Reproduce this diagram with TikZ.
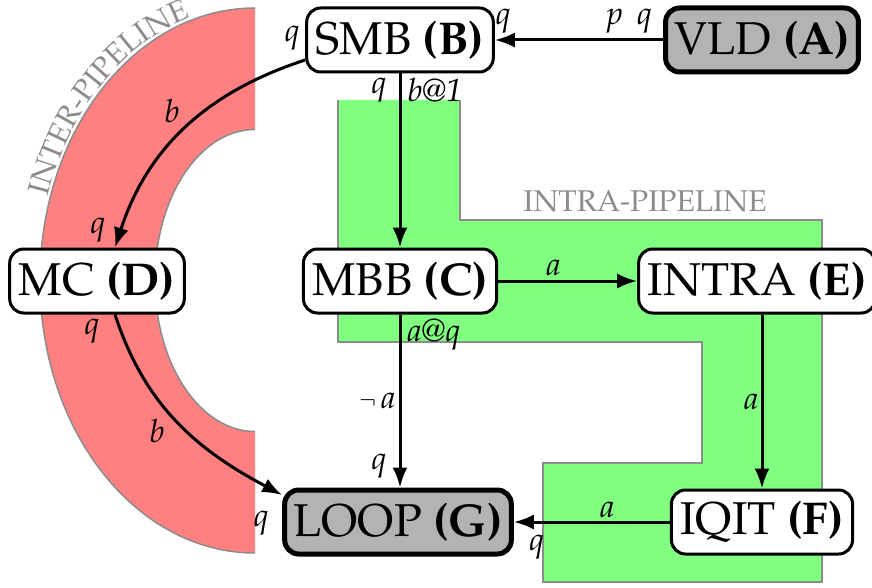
\documentclass[tikz,border=0pt]{standalone}
\usepackage[T1]{fontenc}
\renewcommand{\rmdefault}{ppl}
\usetikzlibrary{arrows.meta,calc,decorations.text}
\definecolor{bandred}{HTML}{FF8080}
\definecolor{bandgreen}{HTML}{80FF80}
\definecolor{edgegray}{HTML}{8C8C8C}
\definecolor{nodegray}{HTML}{B3B3B3}
\newcommand\nodefont{\fontsize{46}{50}\selectfont}
\newcommand\labfont{\fontsize{32}{34}\selectfont\itshape}
\newcommand\zonefont{\fontsize{30}{32}\selectfont\color{edgegray}}
\begin{document}
\begin{tikzpicture}[x=1pt,y=1pt,
  blk/.style={draw=black,line width=3pt,rounded corners=14pt,fill=white,minimum height=64pt,inner xsep=9pt,font=\nodefont},
  gblk/.style={blk,fill=nodegray,line width=5pt},
  arr/.style={line width=3pt,-{Latex[length=20pt,width=15pt]}},
  lab/.style={font=\labfont,inner sep=2pt},
  zone/.style={draw=edgegray,line width=1.5pt}
]
\useasboundingbox (0,0) rectangle (872,-588);
\coordinate (ctr) at (255,-280.5);
% red band
\fill[bandred] ($(ctr)+(90:215 and 272.5)$) arc[start angle=90,end angle=270,x radius=215,y radius=272.5]
  -- ($(ctr)+(270:100 and 151)$) arc[start angle=270,end angle=90,x radius=100,y radius=151] -- cycle;
\draw[zone] ($(ctr)+(90:215 and 272.5)$) arc[start angle=90,end angle=270,x radius=215,y radius=272.5];
\draw[zone] ($(ctr)+(90:100 and 151)$) arc[start angle=90,end angle=270,x radius=100,y radius=151];
\path[decorate,decoration={text along path,text align=center,text={|\zonefont|INTER-PIPELINE}}]
  ($(ctr)+(173:218 and 275.5)$) arc[start angle=173,end angle=94,x radius=218,y radius=275.5];
% green region
\fill[bandgreen] (338,-100) -- (460,-100) -- (460,-220) -- (822,-220) -- (822,-582) -- (543,-582)
  -- (543,-463) -- (702,-463) -- (702,-342) -- (338,-342) -- cycle;
\draw[zone] (460,-100) -- (460,-220) -- (822,-220) -- (822,-582) -- (543,-582)
  -- (543,-463) -- (702,-463) -- (702,-342) -- (338,-342) -- (338,-100);
\node[font=\zonefont] (intra) at (645,-201) {INTRA-PIPELINE};
% nodes
\node[gblk] (A) at (762,-40) {VLD \textbf{(A)}};
\node[blk] (B) at (400,-40) {SMB \textbf{(B)}};
\node[blk] (C) at (400,-281) {MBB \textbf{(C)}};
\node[blk] (D) at (97,-281) {MC \textbf{(D)}};
\node[blk] (E) at (757,-281) {INTRA \textbf{(E)}};
\node[blk] (F) at (762,-522) {IQIT \textbf{(F)}};
\node[gblk] (G) at (398,-522) {LOOP \textbf{(G)}};
% edges
\draw[arr] (A) -- (B)
  node[lab,pos=0.2,above=3pt] {p\;\,q}
  node[lab,pos=0.95,above=3pt] {q};
\draw[arr] (B) -- (C)
  node[lab,at start,anchor=north east,xshift=-10pt,yshift=-1pt] {q}
  node[lab,at start,anchor=north west,xshift=4pt,yshift=-1pt] {b@1};
\draw[arr] ([yshift=-20pt]B.west) to[out=198,in=72]
  node[lab,at start,anchor=south east,xshift=-2pt,yshift=6pt] {q}
  node[lab,pos=0.5,above left=2pt] {b}
  node[lab,at end,anchor=south east,xshift=-6pt,yshift=2pt] {q}
  ([xshift=18pt]D.north);
\draw[arr] (C) -- ([xshift=2pt]G.north)
  node[lab,at start,anchor=north west,xshift=4pt,yshift=-1pt] {a@q}
  node[lab,pos=0.5,left=1pt] {$\neg$\,a}
  node[lab,at end,anchor=south east,xshift=-10pt,yshift=6pt] {q};
\draw[arr] (C) -- (E) node[lab,pos=0.4,above=2pt] {a};
\draw[arr] ([xshift=18pt]D.south) to[out=-72,in=152]
  node[lab,at start,anchor=north east,xshift=-12pt,yshift=-1pt] {q}
  node[lab,pos=0.45,below left=2pt] {b}
  node[lab,at end,anchor=north east,xshift=-10pt,yshift=-12pt] {q}
  ([yshift=27pt]G.west);
\draw[arr] (F |- E.south) -- (F.north) node[lab,pos=0.5,left=0pt] {a};
\draw[arr] (F) -- (G)
  node[lab,pos=0.4,above=1pt] {a}
  node[lab,at end,anchor=north west,xshift=12pt,yshift=-9pt] {q};
\end{tikzpicture}
\end{document}
